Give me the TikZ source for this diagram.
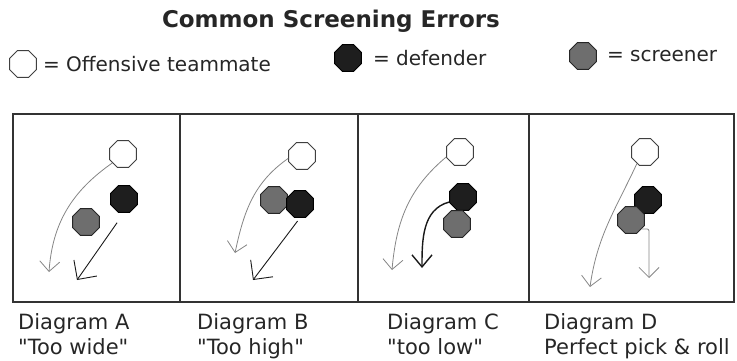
\documentclass[tikz,border=0pt]{standalone}
\usepackage{fontspec}
\setmainfont{DejaVu Sans}
\usetikzlibrary{shapes.geometric,arrows.meta,positioning}

\definecolor{screengray}{HTML}{6E6E6E}
\definecolor{defblack}{HTML}{1E1E1E}
\definecolor{pathgray}{HTML}{858585}

\begin{document}
\begin{tikzpicture}[x=1pt,y=1pt,
  player/.style={regular polygon,regular polygon sides=8,minimum size=29pt,inner sep=0pt,line width=0.9pt},
  offense/.style={player,draw=black!75,fill=white},
  defender/.style={player,draw=black,fill=defblack},
  screener/.style={player,draw=black!85,fill=screengray},
  legend/.style={anchor=west,inner sep=0pt,text=black!85,font=\fontsize{20}{20}\selectfont},
  caption/.style={anchor=north west,align=left,inner sep=0pt,text=black!85,font=\fontsize{21}{25}\selectfont},
  cut/.style={draw=pathgray,line width=0.8pt,-{Straight Barb[length=10pt,width=20pt]}},
  chase/.style={draw=black!90,line width=0.9pt,-{Straight Barb[length=14pt,width=28pt]}},
]
  \useasboundingbox (0,0) rectangle (737,360);

  \path
  node[font=\fontsize{23}{23}\selectfont\bfseries,text=black!85] (title) at (331,339) {Common Screening Errors}
  node[offense]  (keyo) at (23,296) {}
  node[legend,right=6pt of keyo]  (keyotext) {= Offensive teammate}
  node[defender] (keyd) at (348,302) {}
  node[legend,right=11pt of keyd] (keydtext) {= defender}
  node[screener] (keys) at (583,304) {}
  node[legend,right=10pt of keys] (keystext) {= screener}
  ;

  % the court
  \draw[line width=1.3pt,black!80] (13,58) rectangle (734,246);
  \foreach \x in {180,358,529}
    \draw[line width=1.3pt,black!80] (\x,58) -- (\x,246);

  \path
  node[offense]  (wA) at (123,206) {}
  node[defender] (dA) at (124,161) {}
  node[screener] (sA) at (86,138)  {}
  node[offense]  (wB) at (302,204) {}
  node[screener] (sB) at (274,160) {}
  node[defender] (dB) at (300,156) {}
  node[offense]  (wC) at (460,208) {}
  node[defender] (dC) at (463,163) {}
  node[screener] (sC) at (457,136) {}
  node[offense]  (wD) at (645,208) {}
  node[defender] (dD) at (648,160) {}
  node[screener] (sD) at (631,140) {}
  ;

  \coordinate (tipA1) at (49,88);
  \coordinate (tipA2) at (77,80);
  \coordinate (tipB1) at (235,107);
  \coordinate (tipB2) at (253,80);
  \coordinate (tipC1) at (392,90);
  \coordinate (tipC2) at (422,92);
  \coordinate (tipD1) at (590,73);
  \coordinate (tipD2) at (649,82);

  \draw[cut] (wA.220) to[out=215,in=86] (tipA1);
  \draw[cut] (wB.190) to[out=215,in=78] (tipB1);
  \draw[cut] (wC.200) to[out=220,in=85] (tipC1);
  \draw[cut] (wD.235) to[out=245,in=82] (tipD1);
  \draw[chase,shorten <=12pt] (dA.south) -- (tipA2);
  \draw[chase,shorten <=4pt] (dB.south) -- (tipB2);
  \draw[chase,line width=1.4pt,-{Straight Barb[length=12pt,width=20pt]}]
  (dC.200) to[out=195,in=90] (tipC2);
  \draw[cut,rounded corners=2pt] (sD.-40) -| (tipD2);

  \path
  node[caption] (capA) at (18,47)  {Diagram A\\\textquotedbl Too wide\textquotedbl}
  node[caption] (capB) at (197,47) {Diagram B\\\textquotedbl Too high\textquotedbl}
  node[caption] (capC) at (387,47) {Diagram C\\\textquotedbl too low\textquotedbl}
  node[caption] (capD) at (544,47) {Diagram D\\Perfect pick \& roll}
  ;
\end{tikzpicture}
\end{document}
